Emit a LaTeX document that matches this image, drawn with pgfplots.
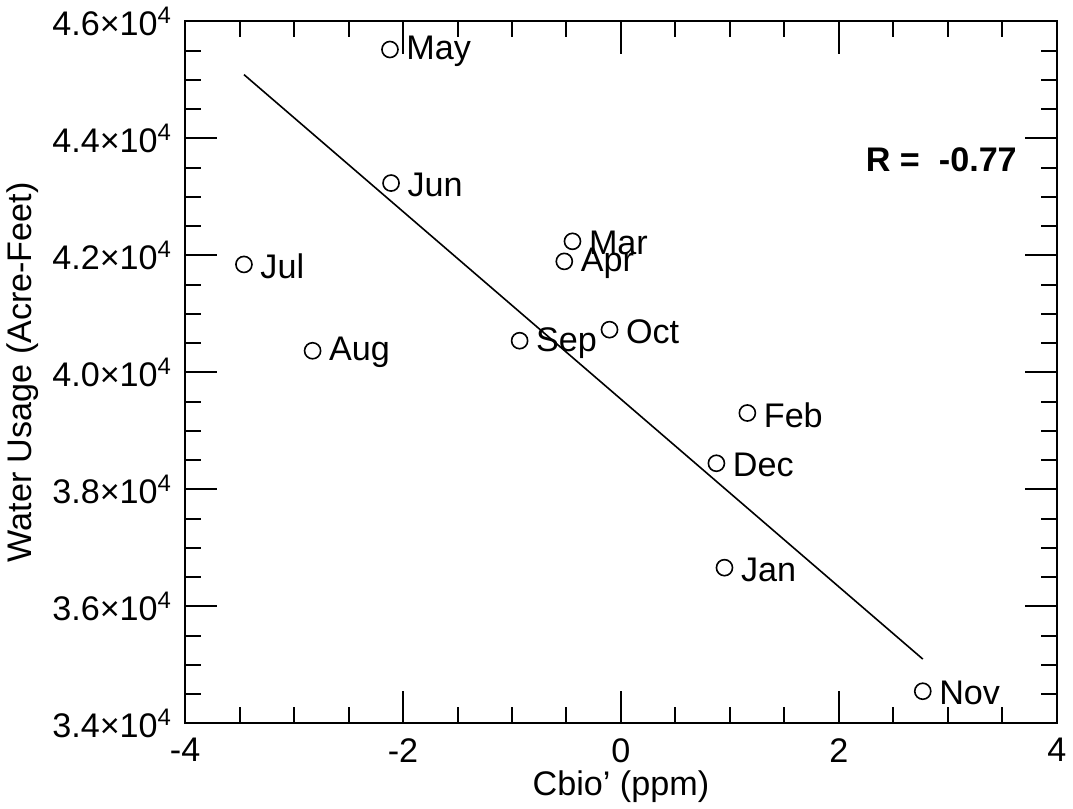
\documentclass[border=0pt]{standalone}
\usepackage{fontspec}
\setmainfont{Liberation Sans}
\usepackage{pgfplots}
\pgfplotsset{compat=1.18}
\pgfplotstableread{
x y label
-2.12 45519 May
-2.11 43236 Jun
-3.46 41845 Jul
-2.83 40369 Aug
-0.445 42240 Mar
-0.52 41897 Apr
-0.93 40541 Sep
-0.105 40730 Oct
1.16 39305 Feb
0.876 38446 Dec
0.95 36661 Jan
2.77 34549 Nov
}\months
\newcommand{\f}{\fontsize{17}{20}\selectfont}
\begin{document}
\begin{tikzpicture}
\begin{axis}[
  scale only axis, width=434pt, height=349.5pt,
  xmin=-4, xmax=4, ymin=34000, ymax=46000,
  xtick={-4,-2,0,2,4}, xticklabels={-4,-2,0,2,4},
  minor x tick num=3,
  ytick={34000,36000,38000,40000,42000,44000,46000},
  yticklabels={3.4×10\textsuperscript{4},3.6×10\textsuperscript{4},3.8×10\textsuperscript{4},4.0×10\textsuperscript{4},4.2×10\textsuperscript{4},4.4×10\textsuperscript{4},4.6×10\textsuperscript{4}},
  minor y tick num=3,
  scaled y ticks=false,
  tick align=inside, major tick length=16pt, minor tick length=8pt,
  axis line style={line width=1pt},
  every tick/.style={black, line width=1pt},
  /pgf/number format/assume math mode=true,
  tick label style={font=\f},
  yticklabel style={xshift=-3pt},
  xticklabel style={yshift=-4pt},
  label style={font=\f},
  xlabel={Cbio{\char39} (ppm)}, ylabel={Water Usage (Acre-Feet)},
  xlabel style={yshift=3pt},
  ylabel style={yshift=0pt},
]
\addplot[line width=0.8pt] coordinates {(-3.46,45090) (2.77,35099)};
\addplot[only marks, mark=o, mark size=4pt, mark options={line width=0.8pt},
  nodes near coords, point meta=explicit symbolic,
  nodes near coords style={anchor=west, xshift=4.5pt, yshift=-1pt, font=\f}]
  table[x=x, y=y, meta=label]{\months};
\node[font=\bfseries\f] at (axis cs:2.94,43631) {R =\ \ -0.77};
\end{axis}
\end{tikzpicture}
\end{document}
